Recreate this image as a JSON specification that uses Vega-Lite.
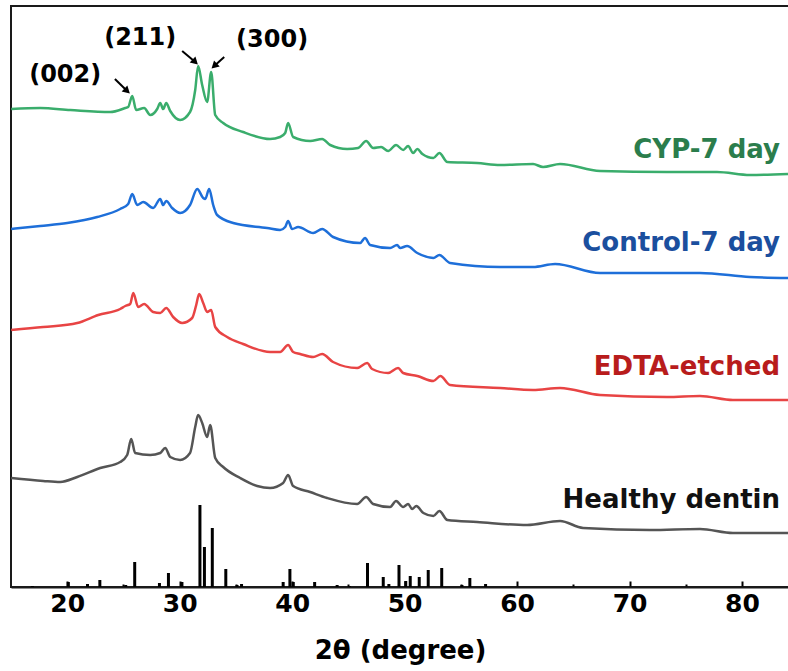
{
  "$schema": "https://vega.github.io/schema/vega-lite/v6.json",
  "width": 778,
  "height": 581,
  "autosize": {"type": "none"},
  "padding": {"left": 11, "top": 6, "right": 0, "bottom": 84},
  "background": "white",
  "config": {"view": {"stroke": "#1a1a1a", "strokeWidth": 2}, "font": "DejaVu Sans"},
  "datasets": {
    "curves": [
      {"s":"CYP","t":15.02,"v":478},{"s":"CYP","t":17.6,"v":479},{"s":"CYP","t":20.27,"v":477},{"s":"CYP","t":23.82,"v":475},{"s":"CYP","t":25.16,"v":479},{"s":"CYP","t":25.42,"v":480},{"s":"CYP","t":25.78,"v":491},{"s":"CYP","t":26.13,"v":477},{"s":"CYP","t":26.84,"v":479},{"s":"CYP","t":27.38,"v":472},{"s":"CYP","t":28.0,"v":478},{"s":"CYP","t":28.27,"v":484},{"s":"CYP","t":28.53,"v":478},{"s":"CYP","t":28.8,"v":484},{"s":"CYP","t":29.16,"v":476},{"s":"CYP","t":30.04,"v":467},{"s":"CYP","t":30.92,"v":475},{"s":"CYP","t":31.38,"v":497},{"s":"CYP","t":31.64,"v":521},{"s":"CYP","t":32.0,"v":502},{"s":"CYP","t":32.44,"v":485},{"s":"CYP","t":32.8,"v":515},{"s":"CYP","t":33.16,"v":472},{"s":"CYP","t":33.87,"v":464},{"s":"CYP","t":35.64,"v":455},{"s":"CYP","t":38.04,"v":448},{"s":"CYP","t":38.93,"v":450},{"s":"CYP","t":39.38,"v":454},{"s":"CYP","t":39.64,"v":464},{"s":"CYP","t":40.09,"v":450},{"s":"CYP","t":41.6,"v":446},{"s":"CYP","t":42.67,"v":448},{"s":"CYP","t":43.38,"v":442},{"s":"CYP","t":44.89,"v":438},{"s":"CYP","t":45.87,"v":439},{"s":"CYP","t":46.58,"v":446},{"s":"CYP","t":47.2,"v":439},{"s":"CYP","t":47.91,"v":440},{"s":"CYP","t":48.53,"v":436},{"s":"CYP","t":49.24,"v":442},{"s":"CYP","t":49.87,"v":437},{"s":"CYP","t":50.31,"v":441},{"s":"CYP","t":50.76,"v":434},{"s":"CYP","t":51.13,"v":438},{"s":"CYP","t":51.58,"v":433},{"s":"CYP","t":52.56,"v":429},{"s":"CYP","t":53.09,"v":434},{"s":"CYP","t":53.8,"v":425},{"s":"CYP","t":56.44,"v":424},{"s":"CYP","t":58.49,"v":422},{"s":"CYP","t":61.42,"v":423},{"s":"CYP","t":62.31,"v":420},{"s":"CYP","t":63.82,"v":423},{"s":"CYP","t":67.38,"v":416},{"s":"CYP","t":73.33,"v":415},{"s":"CYP","t":77.78,"v":415},{"s":"CYP","t":80.71,"v":412},{"s":"CYP","t":84.09,"v":413},
      {"s":"Control","t":15.02,"v":358},{"s":"Control","t":17.6,"v":361},{"s":"Control","t":20.0,"v":364},{"s":"Control","t":22.67,"v":370},{"s":"Control","t":24.71,"v":378},{"s":"Control","t":25.42,"v":383},{"s":"Control","t":25.78,"v":393},{"s":"Control","t":26.22,"v":382},{"s":"Control","t":26.76,"v":385},{"s":"Control","t":27.64,"v":379},{"s":"Control","t":28.27,"v":388},{"s":"Control","t":28.53,"v":382},{"s":"Control","t":28.8,"v":386},{"s":"Control","t":29.33,"v":379},{"s":"Control","t":30.04,"v":374},{"s":"Control","t":30.92,"v":382},{"s":"Control","t":31.56,"v":398},{"s":"Control","t":32.09,"v":389},{"s":"Control","t":32.27,"v":388},{"s":"Control","t":32.62,"v":398},{"s":"Control","t":32.98,"v":382},{"s":"Control","t":33.33,"v":372},{"s":"Control","t":34.76,"v":364},{"s":"Control","t":37.78,"v":359},{"s":"Control","t":38.93,"v":357},{"s":"Control","t":39.38,"v":360},{"s":"Control","t":39.64,"v":366},{"s":"Control","t":40.0,"v":358},{"s":"Control","t":40.53,"v":360},{"s":"Control","t":41.87,"v":354},{"s":"Control","t":42.67,"v":358},{"s":"Control","t":43.64,"v":350},{"s":"Control","t":46.04,"v":344},{"s":"Control","t":46.48,"v":349},{"s":"Control","t":46.93,"v":342},{"s":"Control","t":48.71,"v":339},{"s":"Control","t":49.33,"v":342},{"s":"Control","t":49.6,"v":339},{"s":"Control","t":50.22,"v":341},{"s":"Control","t":51.13,"v":334},{"s":"Control","t":52.56,"v":329},{"s":"Control","t":53.09,"v":332},{"s":"Control","t":54.04,"v":324},{"s":"Control","t":58.49,"v":320},{"s":"Control","t":61.42,"v":320},{"s":"Control","t":63.38,"v":323},{"s":"Control","t":67.38,"v":314},{"s":"Control","t":71.82,"v":314},{"s":"Control","t":76.26,"v":314},{"s":"Control","t":80.71,"v":310},{"s":"Control","t":84.09,"v":309},
      {"s":"EDTA","t":15.02,"v":257},{"s":"EDTA","t":17.87,"v":260},{"s":"EDTA","t":20.89,"v":264},{"s":"EDTA","t":22.76,"v":272},{"s":"EDTA","t":24.71,"v":278},{"s":"EDTA","t":25.16,"v":281},{"s":"EDTA","t":25.6,"v":283},{"s":"EDTA","t":25.87,"v":294},{"s":"EDTA","t":26.31,"v":280},{"s":"EDTA","t":26.84,"v":283},{"s":"EDTA","t":27.64,"v":275},{"s":"EDTA","t":28.27,"v":274},{"s":"EDTA","t":28.8,"v":279},{"s":"EDTA","t":29.42,"v":270},{"s":"EDTA","t":30.22,"v":264},{"s":"EDTA","t":31.11,"v":269},{"s":"EDTA","t":31.47,"v":282},{"s":"EDTA","t":31.73,"v":293},{"s":"EDTA","t":32.09,"v":284},{"s":"EDTA","t":32.44,"v":275},{"s":"EDTA","t":32.8,"v":277},{"s":"EDTA","t":33.16,"v":260},{"s":"EDTA","t":34.22,"v":250},{"s":"EDTA","t":35.64,"v":243},{"s":"EDTA","t":38.04,"v":235},{"s":"EDTA","t":38.93,"v":235},{"s":"EDTA","t":39.64,"v":242},{"s":"EDTA","t":40.09,"v":235},{"s":"EDTA","t":40.71,"v":233},{"s":"EDTA","t":41.87,"v":230},{"s":"EDTA","t":42.67,"v":233},{"s":"EDTA","t":43.64,"v":225},{"s":"EDTA","t":45.78,"v":219},{"s":"EDTA","t":46.67,"v":224},{"s":"EDTA","t":47.11,"v":218},{"s":"EDTA","t":48.53,"v":214},{"s":"EDTA","t":49.42,"v":219},{"s":"EDTA","t":49.87,"v":214},{"s":"EDTA","t":51.13,"v":211},{"s":"EDTA","t":52.56,"v":206},{"s":"EDTA","t":53.18,"v":211},{"s":"EDTA","t":54.04,"v":202},{"s":"EDTA","t":58.49,"v":199},{"s":"EDTA","t":61.42,"v":197},{"s":"EDTA","t":63.82,"v":199},{"s":"EDTA","t":67.38,"v":192},{"s":"EDTA","t":73.33,"v":190},{"s":"EDTA","t":76.26,"v":191},{"s":"EDTA","t":79.2,"v":187},{"s":"EDTA","t":84.09,"v":187},
      {"s":"Healthy","t":15.02,"v":109},{"s":"Healthy","t":17.87,"v":106},{"s":"Healthy","t":19.38,"v":105},{"s":"Healthy","t":20.89,"v":110},{"s":"Healthy","t":22.93,"v":119},{"s":"Healthy","t":24.71,"v":125},{"s":"Healthy","t":25.33,"v":132},{"s":"Healthy","t":25.69,"v":148},{"s":"Healthy","t":26.04,"v":134},{"s":"Healthy","t":27.38,"v":132},{"s":"Healthy","t":28.27,"v":134},{"s":"Healthy","t":28.71,"v":139},{"s":"Healthy","t":29.16,"v":130},{"s":"Healthy","t":30.04,"v":127},{"s":"Healthy","t":30.92,"v":134},{"s":"Healthy","t":31.38,"v":160},{"s":"Healthy","t":31.64,"v":172},{"s":"Healthy","t":32.0,"v":164},{"s":"Healthy","t":32.44,"v":150},{"s":"Healthy","t":32.71,"v":162},{"s":"Healthy","t":33.16,"v":129},{"s":"Healthy","t":33.87,"v":120},{"s":"Healthy","t":35.38,"v":109},{"s":"Healthy","t":36.89,"v":101},{"s":"Healthy","t":38.04,"v":99},{"s":"Healthy","t":39.2,"v":104},{"s":"Healthy","t":39.64,"v":112},{"s":"Healthy","t":40.09,"v":101},{"s":"Healthy","t":41.6,"v":95},{"s":"Healthy","t":43.11,"v":89},{"s":"Healthy","t":45.78,"v":83},{"s":"Healthy","t":46.58,"v":90},{"s":"Healthy","t":47.2,"v":83},{"s":"Healthy","t":48.71,"v":80},{"s":"Healthy","t":49.24,"v":86},{"s":"Healthy","t":49.87,"v":80},{"s":"Healthy","t":50.31,"v":83},{"s":"Healthy","t":50.67,"v":78},{"s":"Healthy","t":51.04,"v":81},{"s":"Healthy","t":51.67,"v":74},{"s":"Healthy","t":52.56,"v":71},{"s":"Healthy","t":53.09,"v":76},{"s":"Healthy","t":53.8,"v":67},{"s":"Healthy","t":56.44,"v":65},{"s":"Healthy","t":60.89,"v":62},{"s":"Healthy","t":63.82,"v":66},{"s":"Healthy","t":65.87,"v":59},{"s":"Healthy","t":71.82,"v":57},{"s":"Healthy","t":76.26,"v":58},{"s":"Healthy","t":79.2,"v":54},{"s":"Healthy","t":84.09,"v":54}
    ],
    "sticks": [
      {"t":16.9,"v":1},{"t":20.1,"v":5},{"t":21.8,"v":3},{"t":22.9,"v":7},{"t":25.2,"v":2},{"t":26.0,"v":25},{"t":28.2,"v":4},{"t":29.0,"v":14},{"t":30.2,"v":5},{"t":31.8,"v":82},{"t":32.2,"v":40},{"t":32.9,"v":59},{"t":34.1,"v":18},{"t":35.1,"v":2},{"t":35.5,"v":3},{"t":39.2,"v":5},{"t":39.8,"v":18},{"t":40.1,"v":5},{"t":42.0,"v":5},{"t":44.0,"v":2},{"t":45.1,"v":1},{"t":46.7,"v":24},{"t":48.1,"v":10},{"t":48.6,"v":3},{"t":49.5,"v":22},{"t":50.1,"v":6},{"t":50.5,"v":11},{"t":51.3,"v":10},{"t":52.1,"v":17},{"t":53.3,"v":19},{"t":55.1,"v":2},{"t":55.8,"v":9},{"t":57.2,"v":3}
    ],
    "planes": [
      {"t":19.82,"v":512,"txt":"(002)"},{"t":26.49,"v":549,"txt":"(211)"},{"t":38.22,"v":547,"txt":"(300)"}
    ],
    "arrows": [
      {"id":"a","t":24.24,"v":508,"t2":25.33,"v2":496},
      {"id":"b","t":30.22,"v":536,"t2":31.38,"v2":525},
      {"id":"c","t":33.96,"v":530,"t2":33.07,"v2":521}
    ],
    "names": [
      {"s":"CYP","t":83.38,"v":437,"txt":"CYP-7 day"},
      {"s":"Control","t":83.38,"v":344,"txt":"Control-7 day"},
      {"s":"EDTA","t":83.38,"v":220,"txt":"EDTA-etched"},
      {"s":"Healthy","t":83.38,"v":87,"txt":"Healthy dentin"}
    ]
  },
  "encoding": {
    "x": {
      "field": "t", "type": "quantitative",
      "scale": {"domain": [15, 84.18], "nice": false, "zero": false},
      "axis": {
        "values": [20,25,30,35,40,45,50,55,60,65,70,75,80],
        "labelExpr": "datum.value % 10 === 0 ? datum.label : ''",
        "tickSize": {"condition": {"test": "datum.value % 10 === 0", "value": -6}, "value": -3},
        "tickWidth": 2, "tickColor": "#000",
        "domainColor": "#1a1a1a", "domainWidth": 2,
        "labelFont": "DejaVu Sans", "labelFontWeight": "bold", "labelFontSize": 25, "labelColor": "#000",
        "labelPadding": 10, "labelFlush": false, "labelOverlap": false,
        "grid": false,
        "title": "2θ (degree)", "titleFont": "DejaVu Sans", "titleFontSize": 26, "titleFontWeight": "bold", "titleColor": "#000", "titlePadding": 18
      }
    },
    "y": {
      "field": "v", "type": "quantitative",
      "scale": {"domain": [0, 581], "nice": false, "zero": false},
      "axis": null
    }
  },
  "layer": [
    {
      "data": {"name": "sticks"},
      "mark": {"type": "rule", "strokeWidth": 3, "color": "#000"},
      "encoding": {"y2": {"datum": 0}}
    },
    {
      "data": {"name": "curves"},
      "mark": {"type": "line", "strokeWidth": 2.5, "strokeJoin": "round", "interpolate": "monotone"},
      "encoding": {
        "color": {"field": "s", "type": "nominal", "legend": null,
          "scale": {"domain": ["CYP", "Control", "EDTA", "Healthy"], "range": ["#3aad6c", "#1e6fd9", "#e84444", "#555555"]}}
      }
    },
    {
      "data": {"name": "arrows"},
      "mark": {"type": "rule", "strokeWidth": 2, "color": "#000"},
      "encoding": {"x2": {"field": "t2"}, "y2": {"field": "v2"}}
    },
    {
      "data": {"name": "arrows"},
      "transform": [{"filter": "datum.id !== 'c'"}],
      "mark": {"type": "point", "shape": "triangle-up", "filled": true, "color": "#000", "size": 70, "angle": 133, "opacity": 1},
      "encoding": {"x": {"field": "t2", "type": "quantitative"}, "y": {"field": "v2", "type": "quantitative"}}
    },
    {
      "data": {"name": "arrows"},
      "transform": [{"filter": "datum.id === 'c'"}],
      "mark": {"type": "point", "shape": "triangle-up", "filled": true, "color": "#000", "size": 70, "angle": 227, "opacity": 1},
      "encoding": {"x": {"field": "t2", "type": "quantitative"}, "y": {"field": "v2", "type": "quantitative"}}
    },
    {
      "data": {"name": "planes"},
      "mark": {"type": "text", "font": "DejaVu Sans", "fontWeight": "bold", "fontSize": 24, "color": "#000", "align": "center", "baseline": "middle"},
      "encoding": {"text": {"field": "txt"}}
    },
    {
      "data": {"name": "names"},
      "mark": {"type": "text", "font": "DejaVu Sans", "fontWeight": "bold", "fontSize": 26, "align": "right", "baseline": "middle"},
      "encoding": {
        "text": {"field": "txt"},
        "color": {"field": "s", "type": "nominal", "legend": null,
          "scale": {"domain": ["CYP", "Control", "EDTA", "Healthy"], "range": ["#2b7d4c", "#1b4f9e", "#b81c1c", "#111111"]}}
      }
    }
  ],
  "resolve": {"scale": {"color": "independent"}}
}
